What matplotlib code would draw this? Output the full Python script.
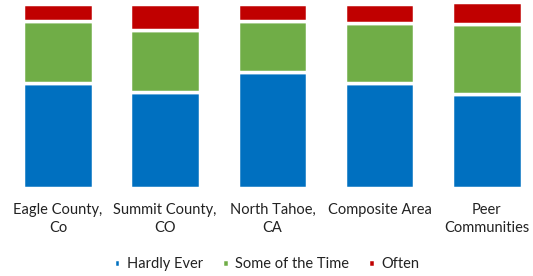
import numpy as np
import matplotlib.pyplot as plt

plt.rcParams['font.family'] = ['Lato', 'DejaVu Sans']

categories = ['Eagle County,\nCo', 'Summit County,\nCO', 'North Tahoe,\nCA',
              'Composite Area', 'Peer\nCommunities']
hardly_ever = [57, 52, 63, 57, 51]
some_time = [34, 34, 28, 33, 38]
often = [9, 14, 9, 10, 12]

series = [('Hardly Ever', hardly_ever, '#0070C0'),
          ('Some of the Time', some_time, '#70AD47'),
          ('Often', often, '#C00000')]

fig = plt.figure(figsize=(5.33, 2.76), dpi=100)
ax = fig.add_axes([0, 0.3197, 1, 0.680])

x = np.arange(len(categories))
bottom = np.zeros(len(categories))
for name, vals, col in series:
    ax.bar(x, vals, width=0.65, bottom=bottom, color=col, edgecolor='white',
           linewidth=2.5, label=name)
    bottom += np.array(vals)

ax.set_xlim(-0.54, 4.43)
ax.set_ylim(0, 102.3)
for s in ax.spines.values():
    s.set_visible(False)
ax.set_yticks([])
ax.set_xticks(x)
ax.set_xticklabels(categories, fontsize=10.5, color='#222222', linespacing=1.35)
ax.tick_params(axis='x', length=0, pad=11)

fig.legend(loc='center', bbox_to_anchor=(0.5, 0.043), ncol=3, frameon=False,
           fontsize=10.5, handlelength=0.45, handleheight=0.45, handletextpad=0.45,
           columnspacing=1.3, labelcolor='#222222')

fig.savefig('out.png', dpi=100)
